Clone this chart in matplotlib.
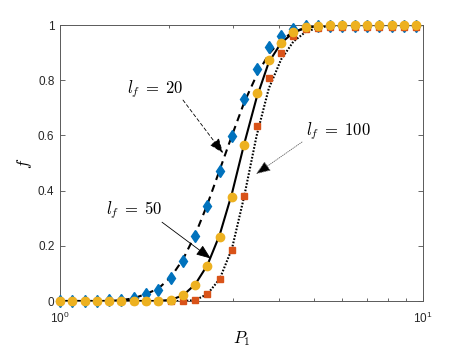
import numpy as np
import matplotlib
matplotlib.use("Agg")
import matplotlib.pyplot as plt
from matplotlib.ticker import NullFormatter, LogLocator

plt.rcParams['mathtext.fontset'] = 'custom'
plt.rcParams['mathtext.rm'] = 'Liberation Sans'
plt.rcParams['mathtext.it'] = 'Liberation Sans:italic'
plt.rcParams['mathtext.bf'] = 'Liberation Sans:bold'
plt.rcParams['font.family'] = ['Liberation Sans', 'DejaVu Sans']

# ---------------- data ----------------
P1 = [1.000, 1.081, 1.169, 1.263, 1.366, 1.476, 1.596, 1.725, 1.865, 2.016,
      2.180, 2.357, 2.547, 2.754, 2.977, 3.218, 3.478, 3.760, 4.065, 4.394,
      4.750, 5.135, 5.551, 6.000, 6.486, 7.012, 7.580, 8.194, 8.857, 9.574]

# simulation markers
f_sim_20 = [0, 0, 0, 0, 0.002, 0.005, 0.011, 0.024, 0.039, 0.083,
            0.144, 0.234, 0.345, 0.472, 0.597, 0.732, 0.841, 0.919, 0.961, 0.986,
            0.998, 0.997, 0.997, 0.997, 0.997, 0.997, 0.997, 0.997, 0.997, 0.997]
f_sim_50 = [0, 0, 0, 0, 0, 0, 0, 0, 0, 0.002,
            0.020, 0.057, 0.127, 0.231, 0.377, 0.565, 0.752, 0.873, 0.934, 0.974,
            0.992, 0.996, 1, 1, 1, 1, 1, 1, 1, 1]
f_sim_100 = [0, 0, 0, 0, 0, 0, 0, 0, 0, 0,
             0, 0.003, 0.027, 0.078, 0.184, 0.382, 0.635, 0.809, 0.897, 0.960,
             0.984, 0.990, 0.992, 0.992, 0.992, 0.992, 0.992, 0.992, 0.992, 0.992]

# model curves
P1_line = P1 + [10.0]
f_mod_20 = [0, 0, 0, 0, 0, 0.003, 0.010, 0.025, 0.045, 0.085,
            0.150, 0.240, 0.350, 0.475, 0.600, 0.720, 0.817, 0.895, 0.945, 0.975,
            0.990, 0.997, 1, 1, 1, 1, 1, 1, 1, 1, 1]
f_mod_50 = [0, 0, 0, 0, 0, 0, 0, 0, 0, 0.004,
            0.020, 0.060, 0.130, 0.240, 0.390, 0.570, 0.735, 0.865, 0.935, 0.972,
            0.990, 0.997, 1, 1, 1, 1, 1, 1, 1, 1, 1]
f_mod_100 = [0, 0, 0, 0, 0, 0, 0, 0, 0, 0,
             0, 0.003, 0.025, 0.080, 0.190, 0.380, 0.597, 0.770, 0.875, 0.940,
             0.975, 0.990, 0.997, 1, 1, 1, 1, 1, 1, 1, 1]

labels = [r'$l_f\;=\;20$', r'$l_f\;=\;50$', r'$l_f\;=\;100$']

c_blue = '#0072BD'
c_orange = '#D95319'
c_yellow = '#EDB120'

# ---------------- figure ----------------
fig = plt.figure(figsize=(4.67, 3.5), dpi=100)
ax = fig.add_axes([60/467, 49/350, 363/467, 276/350])

ax.plot(P1_line, f_mod_20, color='k', lw=1.5, dashes=(3.5, 2.5))
ax.plot(P1_line, f_mod_50, color='k', lw=1.5, ls='-')
ax.plot(P1_line, f_mod_100, color='k', lw=1.5, dashes=(0.8, 0.8))

ax.plot(P1, f_sim_20, ls='none', marker='d', ms=6.5, color=c_blue, mec=c_blue, clip_on=False, zorder=3)
ax.plot(P1, f_sim_100, ls='none', marker='s', ms=4.6, color=c_orange, mec=c_orange, clip_on=False, zorder=4)
ax.plot(P1, f_sim_50, ls='none', marker='o', ms=6, color=c_yellow, mec=c_yellow, clip_on=False, zorder=5)

ax.set_xscale('log')
ax.set_xlim(1, 10)
ax.set_ylim(0, 1)

ax.set_xticks([1, 10])
ax.set_xticklabels([r'$\mathregular{10^{0}}$', r'$\mathregular{10^{1}}$'])
ax.xaxis.set_minor_locator(LogLocator(base=10, subs=np.arange(2, 10)))
ax.xaxis.set_minor_formatter(NullFormatter())
ax.set_yticks([0, 0.2, 0.4, 0.6, 0.8, 1])
ax.set_yticklabels(['0', '0.2', '0.4', '0.6', '0.8', '1'])
ax.tick_params(which='both', direction='in', top=True, right=True,
               labelsize=8.5, labelcolor='0.15', color='0.3', width=0.6)
ax.tick_params(which='major', length=3.5)
ax.tick_params(axis='x', which='major', pad=7)
ax.tick_params(axis='y', which='major', pad=4)
ax.tick_params(which='minor', length=2)
for s in ax.spines.values():
    s.set_color('0.35')
    s.set_linewidth(0.7)

ax.set_xlabel(r'$P_1$', fontsize=12, math_fontfamily='cm', labelpad=2)
ax.set_ylabel(r'$f$', fontsize=12, math_fontfamily='cm', labelpad=3)

# annotations
ax.text(1.827, 0.768, labels[0], fontsize=12, math_fontfamily='cm', ha='center', va='center')
ax.text(1.599, 0.329, labels[1], fontsize=12, math_fontfamily='cm', ha='center', va='center')
ax.text(5.834, 0.616, labels[2], fontsize=12, math_fontfamily='cm', ha='center', va='center')

aprops = dict(arrowstyle='-|>,head_length=0.9,head_width=0.35', color='k', shrinkA=0, shrinkB=0,
              mutation_scale=10)
ax.annotate('', xy=(2.812, 0.536), xytext=(2.182, 0.728),
            arrowprops=dict(aprops, lw=0.6, linestyle=(0, (4, 3))))
ax.annotate('', xy=(2.602, 0.154), xytext=(1.910, 0.2855),
            arrowprops=dict(aprops, lw=0.6))
ax.annotate('', xy=(3.467, 0.460), xytext=(4.642, 0.576),
            arrowprops=dict(aprops, lw=0.6, linestyle=(0, (1, 1.5)), ec='0.4', fc='k'))

fig.savefig('out.png', dpi=100)
